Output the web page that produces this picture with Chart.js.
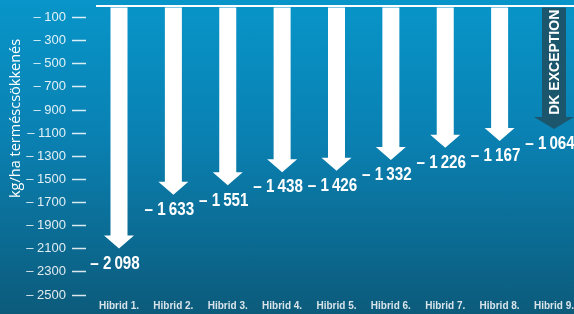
<!DOCTYPE html>
<html>
<head>
<meta charset="utf-8">
<script src="https://cdn.jsdelivr.net/npm/chart.js@4.4.1/dist/chart.umd.min.js"></script>
<style>
  html, body { margin: 0; padding: 0; }
  body {
    width: 574px; height: 314px; overflow: hidden;
    background: linear-gradient(to bottom, #0895c9 0%, #0a80b1 45%, #0c5b7b 100%);
  }
  #wrap { position: relative; width: 574px; height: 314px; }
</style>
</head>
<body>
<div id="wrap"><canvas id="chart"></canvas></div>
<script>
// yield loss per hybrid (kg/ha)
const categories = ['Hibrid 1.', 'Hibrid 2.', 'Hibrid 3.', 'Hibrid 4.', 'Hibrid 5.',
                    'Hibrid 6.', 'Hibrid 7.', 'Hibrid 8.', 'Hibrid 9.'];
const yieldLoss = [2098, 1633, 1551, 1438, 1426, 1332, 1226, 1167, 1064];
const yTicks = [100, 300, 500, 700, 900, 1100, 1300, 1500, 1700, 1900, 2100, 2300, 2500];
const highlightIndex = 8;
const highlightLabel = 'DK EXCEPTION';

const SANS = '"Liberation Sans", Arial, sans-serif';

const fmtValue = v => '\u2013 ' + String(v).replace(/\B(?=(\d{3})+(?!\d))/g, '\u2009');

// white zero line + arrows + value labels
const arrowPlugin = {
  id: 'arrows',
  afterDatasetsDraw(chart) {
    const ctx = chart.ctx;
    const area = chart.chartArea;
    const y0 = chart.scales.y.getPixelForValue(0);
    ctx.save();
    ctx.strokeStyle = '#ffffff';
    ctx.lineWidth = 2;
    ctx.beginPath();
    ctx.moveTo(area.left, y0);
    ctx.lineTo(area.right, y0);
    ctx.stroke();

    chart.getDatasetMeta(0).data.forEach((bar, i) => {
      const hl = i === highlightIndex;
      const shaftW = hl ? 24 : 17;
      const headW = hl ? 40 : 30;
      const headH = hl ? 12 : 13;
      const x = bar.x, tip = bar.y, top = y0 + 1.5;

      ctx.fillStyle = hl ? '#1b566d' : '#ffffff';
      ctx.beginPath();
      ctx.moveTo(x - shaftW / 2, top);
      ctx.lineTo(x + shaftW / 2, top);
      ctx.lineTo(x + shaftW / 2, tip - headH);
      ctx.lineTo(x + headW / 2, tip - headH);
      ctx.lineTo(x, tip);
      ctx.lineTo(x - headW / 2, tip - headH);
      ctx.lineTo(x - shaftW / 2, tip - headH);
      ctx.closePath();
      ctx.fill();

      if (hl) {
        ctx.save();
        ctx.translate(x, (top + tip - headH) / 2);
        ctx.rotate(-Math.PI / 2);
        ctx.fillStyle = '#ffffff';
        ctx.font = 'bold 14px ' + SANS;
        ctx.textAlign = 'center';
        ctx.textBaseline = 'middle';
        ctx.fillText(highlightLabel, 0, 1);
        ctx.restore();
      }

      // condensed look: squeeze the bold label horizontally
      ctx.save();
      ctx.translate(x - 4, tip + 15);
      ctx.scale(0.8, 1);
      ctx.fillStyle = '#ffffff';
      ctx.font = 'bold 19px ' + SANS;
      ctx.textAlign = 'center';
      ctx.textBaseline = 'middle';
      ctx.fillText(fmtValue(yieldLoss[i]), 0, 0);
      ctx.restore();
    });
    ctx.restore();
  }
};

new Chart(document.getElementById('chart'), {
  type: 'bar',
  data: {
    datasets: [{
      data: yieldLoss.map((v, i) => ({ x: i + 1, y: -v })),
      backgroundColor: 'rgba(0,0,0,0)',
      barThickness: 17
    }]
  },
  options: {
    responsive: true,
    maintainAspectRatio: false,
    animation: false,
    layout: { padding: { top: 6, left: 0, right: 0, bottom: 0 } },
    plugins: { legend: { display: false }, tooltip: { enabled: false } },
    scales: {
      x: {
        type: 'linear',
        offset: false,
        min: 0.577,
        max: 9.368,
        afterBuildTicks: s => { s.ticks = categories.map((c, i) => ({ value: i + 1 })); },
        afterFit: s => { s.height = 19; s.paddingLeft = 0; s.paddingRight = 0; },
        grid: { display: false, drawTicks: false },
        border: { display: false },
        ticks: {
          callback: v => categories[v - 1],
          autoSkip: false,
          maxRotation: 0,
          padding: 5,
          color: '#d9e4ea',
          font: { family: SANS, size: 10, weight: 'bold' }
        }
      },
      y: {
        min: -2500,
        max: 0,
        afterBuildTicks: s => { s.ticks = yTicks.map(v => ({ value: -v })); },
        afterFit: s => { s.width = 96; s.paddingTop = 0; s.paddingBottom = 0; },
        border: { display: false },
        grid: {
          drawOnChartArea: false,
          drawTicks: true,
          tickLength: 24,
          tickBorderDash: [14, 40],
          tickColor: 'rgba(255,255,255,0.85)',
          tickWidth: 1.5
        },
        ticks: {
          callback: v => '\u2013 ' + (-v),
          padding: 6,
          color: 'rgba(255,255,255,0.88)',
          font: { family: SANS, size: 13 }
        },
        title: {
          display: true,
          text: '                 kg/ha terméscsökkenés',
          color: '#ffffff',
          padding: { top: 7, bottom: 0 },
          font: { family: '"Open Sans", sans-serif', size: 14.5 }
        }
      }
    }
  },
  plugins: [arrowPlugin]
});
</script>
</body>
</html>
